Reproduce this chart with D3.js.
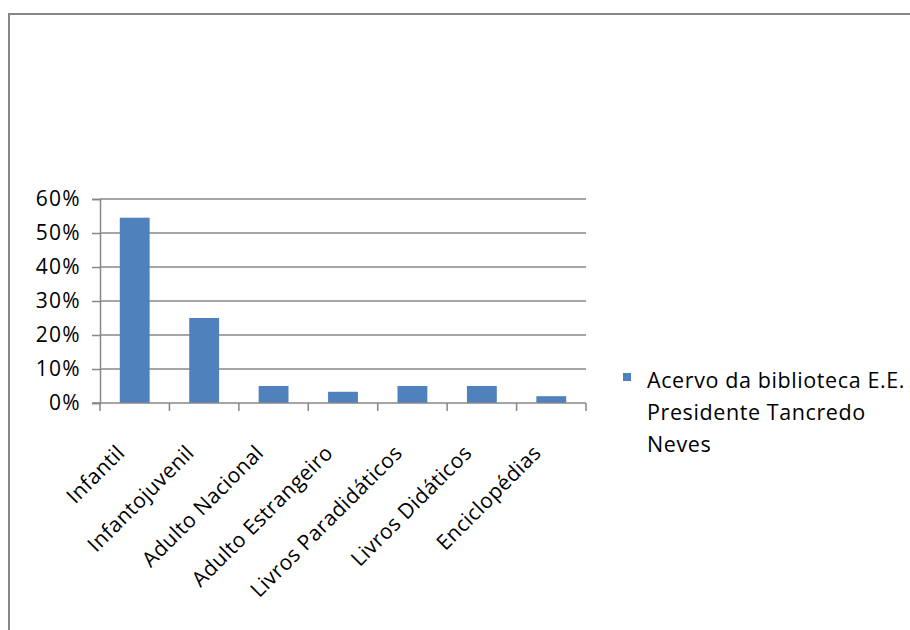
<!DOCTYPE html>
<html><head><meta charset="utf-8">
<script src="https://cdn.jsdelivr.net/npm/d3@7/dist/d3.min.js"></script>
<style>body{margin:0;background:#fff}svg{display:block}text{font-family:"Open Sans",sans-serif;fill:#000}</style>
</head><body>
<script>
const categories = ["Infantil","Infantojuvenil","Adulto Nacional","Adulto Estrangeiro","Livros Paradidáticos","Livros Didáticos","Enciclopédias"];
const values = [0.545, 0.25, 0.05, 0.033, 0.05, 0.05, 0.02];
const yTicks = [0, 0.1, 0.2, 0.3, 0.4, 0.5, 0.6];
const seriesName = ["Acervo da biblioteca E.E.", "Presidente Tancredo", "Neves"];

const W = 910, H = 630;
const svg = d3.select("body").append("svg").attr("width", W).attr("height", H);
const grey = "#878787";

svg.append("rect").attr("x", 9).attr("y", 14).attr("width", W + 20).attr("height", H + 20)
  .attr("fill", "#fff").attr("stroke", grey).attr("stroke-width", 2);

const x = d3.scaleBand().domain(categories).range([100, 586]).paddingInner(0.57).paddingOuter(0.285);
const y = d3.scaleLinear().domain([0, 0.6]).range([403, 199]);

// gridlines
svg.append("g").selectAll("line").data(yTicks.filter(d => d > 0)).join("line")
  .attr("x1", 100).attr("x2", 586).attr("y1", d => y(d)).attr("y2", d => y(d))
  .attr("stroke", grey).attr("stroke-width", 1.5);

// bars
svg.append("g").selectAll("rect").data(values).join("rect")
  .attr("x", (d, i) => x(categories[i])).attr("width", x.bandwidth())
  .attr("y", d => y(d)).attr("height", d => y(0) - y(d)).attr("fill", "#4F81BD");

// y axis
const yAxis = svg.append("g").attr("transform", "translate(100,0)")
  .call(d3.axisLeft(y).tickValues(yTicks).tickFormat(d3.format(".0%")).tickSize(8).tickPadding(11));
yAxis.select(".domain").attr("stroke", grey).attr("stroke-width", 1.5);
yAxis.selectAll(".tick line").attr("stroke", grey).attr("stroke-width", 1.5);
yAxis.selectAll("text").style("font-size", "21px").style("letter-spacing", "1.3px")
  .style("font-family", "'Open Sans',sans-serif").attr("fill", "#000");

// x axis line and ticks at band boundaries
const step = x.step();
const x0 = 100;
svg.append("line").attr("x1", 92).attr("x2", 586).attr("y1", y(0)).attr("y2", y(0))
  .attr("stroke", grey).attr("stroke-width", 1.5);
svg.append("g").selectAll("line").data(d3.range(categories.length + 1)).join("line")
  .attr("x1", i => x0 + i * step).attr("x2", i => x0 + i * step)
  .attr("y1", y(0)).attr("y2", y(0) + 8).attr("stroke", grey).attr("stroke-width", 1.5);

// x labels
svg.append("g").selectAll("text").data(categories).join("text")
  .attr("transform", d => `translate(${x(d) + x.bandwidth() / 2 - 14},${y(0) + 46}) rotate(-45)`)
  .attr("text-anchor", "end").attr("dy", "0.35em")
  .style("font-size", "21px").style("letter-spacing", "0.4px").text(d => d);

// legend
svg.append("rect").attr("x", 623).attr("y", 373).attr("width", 8).attr("height", 8).attr("fill", "#4F81BD");
svg.append("g").selectAll("text").data(seriesName).join("text")
  .attr("x", 647).attr("y", (d, i) => 388 + i * 32)
  .style("font-size", "21.5px").style("letter-spacing", "0.6px").text(d => d);
</script>
</body></html>
